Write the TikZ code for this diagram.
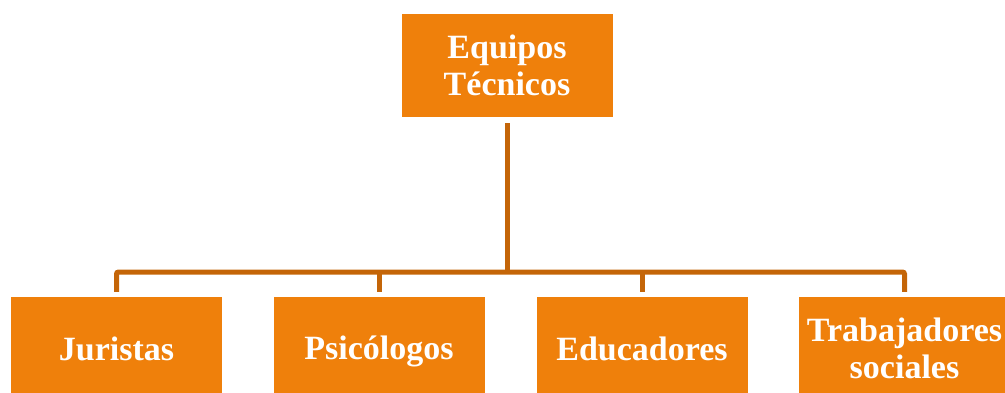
\documentclass[tikz,border=0pt]{standalone}
\usepackage{fontspec}
\setmainfont{Liberation Serif}
\definecolor{boxorange}{RGB}{239,128,11}
\definecolor{lineorange}{RGB}{196,101,8}
\newcommand{\lstrut}{\rule[-6pt]{0pt}{35pt}}

\begin{document}
\begin{tikzpicture}[x=1pt, y=-1pt,
  box/.style={fill=boxorange, text=white, align=center, minimum width=211pt,
    minimum height=103pt, inner sep=0pt, font=\fontsize{34}{35}\selectfont\bfseries},
  link/.style={draw=lineorange, line width=5pt, rounded corners=2pt}]

% page
\useasboundingbox (0,0) rectangle (1005,392);
\clip (0,0) rectangle (1005,392);

% boxes
\node[box] (top) at (507,65.5) {\lstrut Equipos\\\lstrut Técnicos};
\node[box] (jur) at (116.5,348.5) {\lstrut Juristas};
\node[box] (psi) at (379,348.5) {\lstrut Psicólogos};
\node[box] (edu) at (642,348.5) {\lstrut Educadores};
\node[box] (tra) at (904.5,348.5) {\lstrut Trabajadores\\\lstrut sociales};

% connectors
\coordinate (bus) at (507,272);
\draw[link, shorten <=6pt] (top.south) -- (bus);
\draw[link, shorten <=5pt, shorten >=5pt] (jur.north) |- (bus) -| (tra.north);
\draw[link, shorten <=5pt] (psi.north) -- (psi.north |- bus);
\draw[link, shorten <=5pt] (edu.north) -- (edu.north |- bus);

\end{tikzpicture}
\end{document}
